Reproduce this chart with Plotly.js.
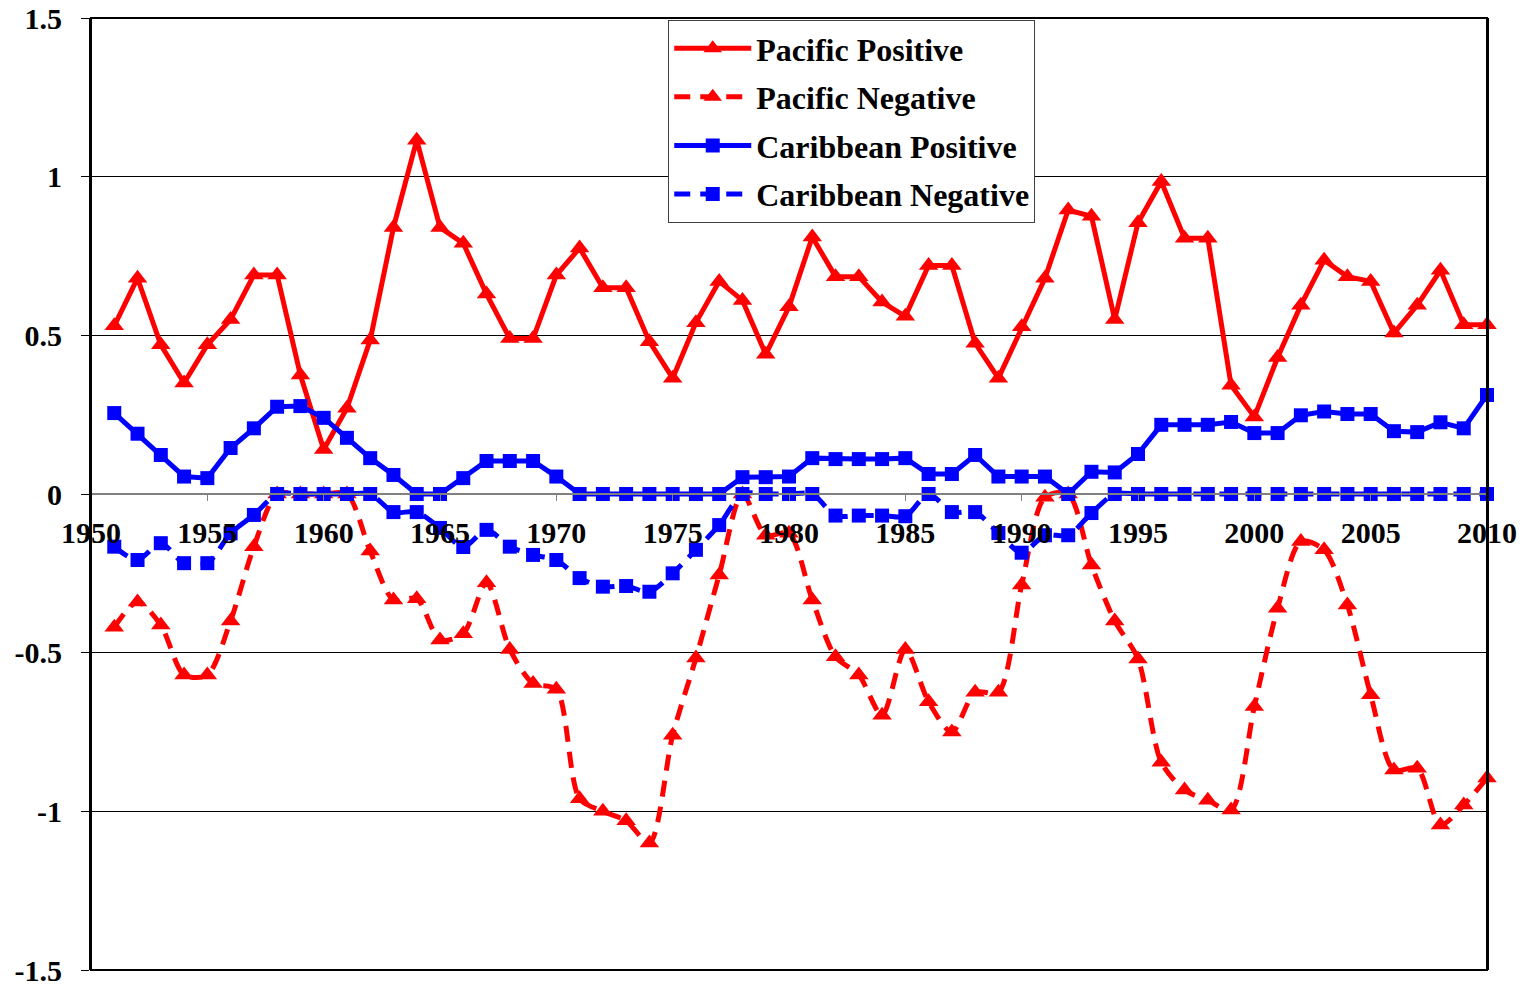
<!DOCTYPE html>
<html>
<head>
<meta charset="utf-8">
<script src="https://cdn.plot.ly/plotly-3.0.1.min.js"></script>
<style>html,body{margin:0;padding:0;background:#fff;}#chart{width:1535px;height:986px;}</style>
</head>
<body>
<div id="chart"></div>
<script>
var years = [];
for (var yr = 1951; yr <= 2010; yr++) years.push(yr);

var pacificPositive = [0.53,0.68,0.47,0.35,0.47,0.55,0.69,0.69,0.375,0.14,
  0.27,0.485,0.84,1.115,0.84,0.79,0.63,0.49,0.49,0.69,
  0.775,0.65,0.65,0.48,0.365,0.54,0.67,0.61,0.44,0.59,
  0.81,0.685,0.685,0.605,0.56,0.72,0.72,0.475,0.365,0.527,
  0.68,0.895,0.875,0.55,0.855,0.985,0.806,0.806,0.343,0.243,
  0.43,0.595,0.737,0.685,0.67,0.507,0.595,0.705,0.533,0.533];

var pacificNegative = [-0.42,-0.34,-0.413,-0.57,-0.57,-0.40,-0.166,0,0,0,
  0,-0.18,-0.334,-0.33,-0.46,-0.44,-0.28,-0.49,-0.597,-0.615,
  -0.96,-1.0,-1.03,-1.10,-0.76,-0.517,-0.255,0,-0.13,-0.124,
  -0.334,-0.513,-0.57,-0.697,-0.49,-0.655,-0.75,-0.625,-0.625,-0.287,
  -0.01,0,-0.224,-0.40,-0.52,-0.845,-0.933,-0.965,-0.996,-0.67,
  -0.36,-0.15,-0.176,-0.35,-0.633,-0.87,-0.864,-1.043,-0.98,-0.895];

var caribbeanPositive = [0.255,0.19,0.123,0.055,0.05,0.145,0.207,0.275,0.277,0.24,
  0.177,0.113,0.06,0,0,0.05,0.104,0.104,0.104,0.055,
  0,0,0,0,0,0,0,0.053,0.053,0.055,
  0.113,0.11,0.11,0.11,0.113,0.063,0.063,0.123,0.055,0.055,
  0.055,0,0.07,0.068,0.126,0.218,0.218,0.218,0.227,0.192,
  0.192,0.248,0.26,0.252,0.252,0.198,0.195,0.226,0.207,0.312];

var caribbeanNegative = [-0.166,-0.208,-0.155,-0.218,-0.218,-0.124,-0.066,0,0,0,
  0,0,-0.057,-0.057,-0.107,-0.167,-0.113,-0.166,-0.192,-0.208,
  -0.265,-0.292,-0.29,-0.308,-0.25,-0.176,-0.098,0,0,0,
  0,-0.068,-0.068,-0.068,-0.07,0,-0.057,-0.057,-0.123,-0.185,
  -0.13,-0.13,-0.06,0,0,0,0,0,0,0,
  0,0,0,0,0,0,0,0,0,0];

var seriesNames = ["Pacific Positive","Pacific Negative","Caribbean Positive","Caribbean Negative"];

var yTickVals = [-1.5,-1,-0.5,0,0.5,1,1.5];
var yTickText = ["-1.5","-1","-0.5","0","0.5","1","1.5"];
var xTickVals = [1950,1955,1960,1965,1970,1975,1980,1985,1990,1995,2000,2005,2010];
var xTickText = ["1950","1955","1960","1965","1970","1975","1980","1985","1990","1995","2000","2005","2010"];

var RED = "#FF0000", BLUE = "#0000FF";
var DASH = "16px,10px";

var traces = [
  {x: years, y: pacificPositive, name: seriesNames[0], legendgroup: "a", mode: "lines+markers", cliponaxis: false,
   line: {color: RED, width: 5}, marker: {symbol: "triangle-up", size: 17, color: RED}},
  {x: years, y: pacificNegative, name: seriesNames[1], legendgroup: "b", mode: "lines+markers", cliponaxis: false,
   line: {color: RED, width: 5, dash: DASH, shape: "spline", smoothing: 0.8}, marker: {symbol: "triangle-up", size: 17, color: RED}},
  {x: years, y: caribbeanPositive, name: seriesNames[2], legendgroup: "c", mode: "lines+markers", cliponaxis: false,
   line: {color: BLUE, width: 5}, marker: {symbol: "square", size: 14, color: BLUE}},
  {x: years, y: caribbeanNegative, name: seriesNames[3], legendgroup: "d", mode: "lines+markers", cliponaxis: false,
   line: {color: BLUE, width: 5, dash: DASH, shape: "spline", smoothing: 0.8}, marker: {symbol: "square", size: 14, color: BLUE}}
];

var fontFam = "'Liberation Serif', 'Times New Roman', serif";

var layout = {
  width: 1535, height: 986,
  margin: {l: 91, r: 48, t: 18, b: 16, pad: 0},
  paper_bgcolor: "#fff", plot_bgcolor: "#fff",
  showlegend: true,
  font: {family: fontFam, color: "#000"},
  xaxis: {
    range: [1950, 2010], tickmode: "array", tickvals: xTickVals, ticktext: xTickText,
    anchor: "free", position: 0.5,
    showgrid: false, zeroline: false,
    showline: true, linecolor: "#808080", linewidth: 2,
    ticks: "outside", ticklen: 6, tickcolor: "#808080", tickwidth: 1,
    ticklabelstandoff: 6, ticklabeloverflow: "allow",
    tickfont: {family: fontFam, size: 30, color: "#000", weight: "bold"}
  },
  yaxis: {
    range: [-1.5, 1.5], tickmode: "array", tickvals: yTickVals, ticktext: yTickText,
    showgrid: true, gridcolor: "#000", gridwidth: 1,
    zeroline: false,
    showline: true, linecolor: "#000", linewidth: 2, mirror: true,
    ticks: "outside", ticklen: 8, tickcolor: "#000", tickwidth: 1,
    ticklabelstandoff: 13, ticklabeloverflow: "allow",
    tickfont: {family: fontFam, size: 30, color: "#000", weight: "bold"}
  },
  legend: {
    x: 0.4135, y: 0.998, xanchor: "left", yanchor: "top",
    bgcolor: "#fff", bordercolor: "#404040", borderwidth: 1,
    font: {family: fontFam, size: 32, color: "#000", weight: "bold"},
    itemwidth: 77, tracegroupgap: 4, traceorder: "grouped"
  },
  shapes: [
    {type: "rect", xref: "paper", yref: "paper", x0: 0, x1: 1, y0: 0, y1: 1,
     line: {color: "#000", width: 2}, fillcolor: "rgba(0,0,0,0)", layer: "above"}
  ]
};

Plotly.newPlot("chart", traces, layout, {displayModeBar: false, staticPlot: true});
</script>
</body>
</html>
